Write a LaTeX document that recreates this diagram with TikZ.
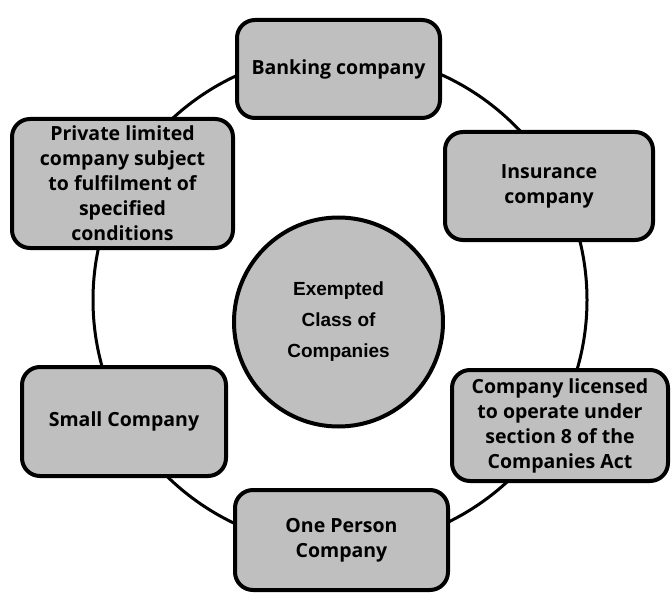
\documentclass[tikz,border=0pt]{standalone}
\usepackage{fontspec}
\setmainfont{Open Sans}
\newfontfamily\circfont{Liberation Sans}
\usepackage{tikz}
\usetikzlibrary{shapes,positioning}
\usepackage{xcolor}
\definecolor{boxgray}{RGB}{191, 191, 191}

\begin{document}
\begin{tikzpicture}[
    x=1pt, y=-1pt,
    item/.style={rectangle, draw, line width=4pt, rounded corners=18pt, fill=boxgray, align=center, inner sep=2pt, font=\fontsize{19.5}{25}\selectfont\bfseries},
    hub/.style={circle, draw, line width=4pt, fill=boxgray, minimum size=209pt, align=center, font=\circfont\fontsize{19}{31}\selectfont\bfseries},
]
    \useasboundingbox (0,0) rectangle (672,599);

    % Ring behind the boxes
    \draw[line width=3pt] (340, 300) circle (247pt);

    % Centre
    \node[hub] (centre) at (338.5, 322) {Exempted\\Class of\\Companies};

    % Outer boxes
    \node[item, minimum width=203pt, minimum height=98pt] (bank) at (338.5, 69) {Banking company};
    \node[item, minimum width=208pt, minimum height=108pt] (ins) at (549, 186) {Insurance\\company};
    \node[item, minimum width=221pt, minimum height=129pt] (priv) at (122.5, 183.5) {Private limited\\company subject\\to fulfilment of\\specified\\conditions};
    \node[item, minimum width=204pt, minimum height=109pt] (small) at (124, 421.5) {Small Company};
    \node[item, minimum width=216pt, minimum height=111pt] (lic) at (560, 425.5) {Company licensed\\to operate under\\section 8 of the\\Companies Act};
    \node[item, minimum width=213pt, minimum height=100pt] (opc) at (341.5, 540) {One Person\\Company};

\end{tikzpicture}
\end{document}
